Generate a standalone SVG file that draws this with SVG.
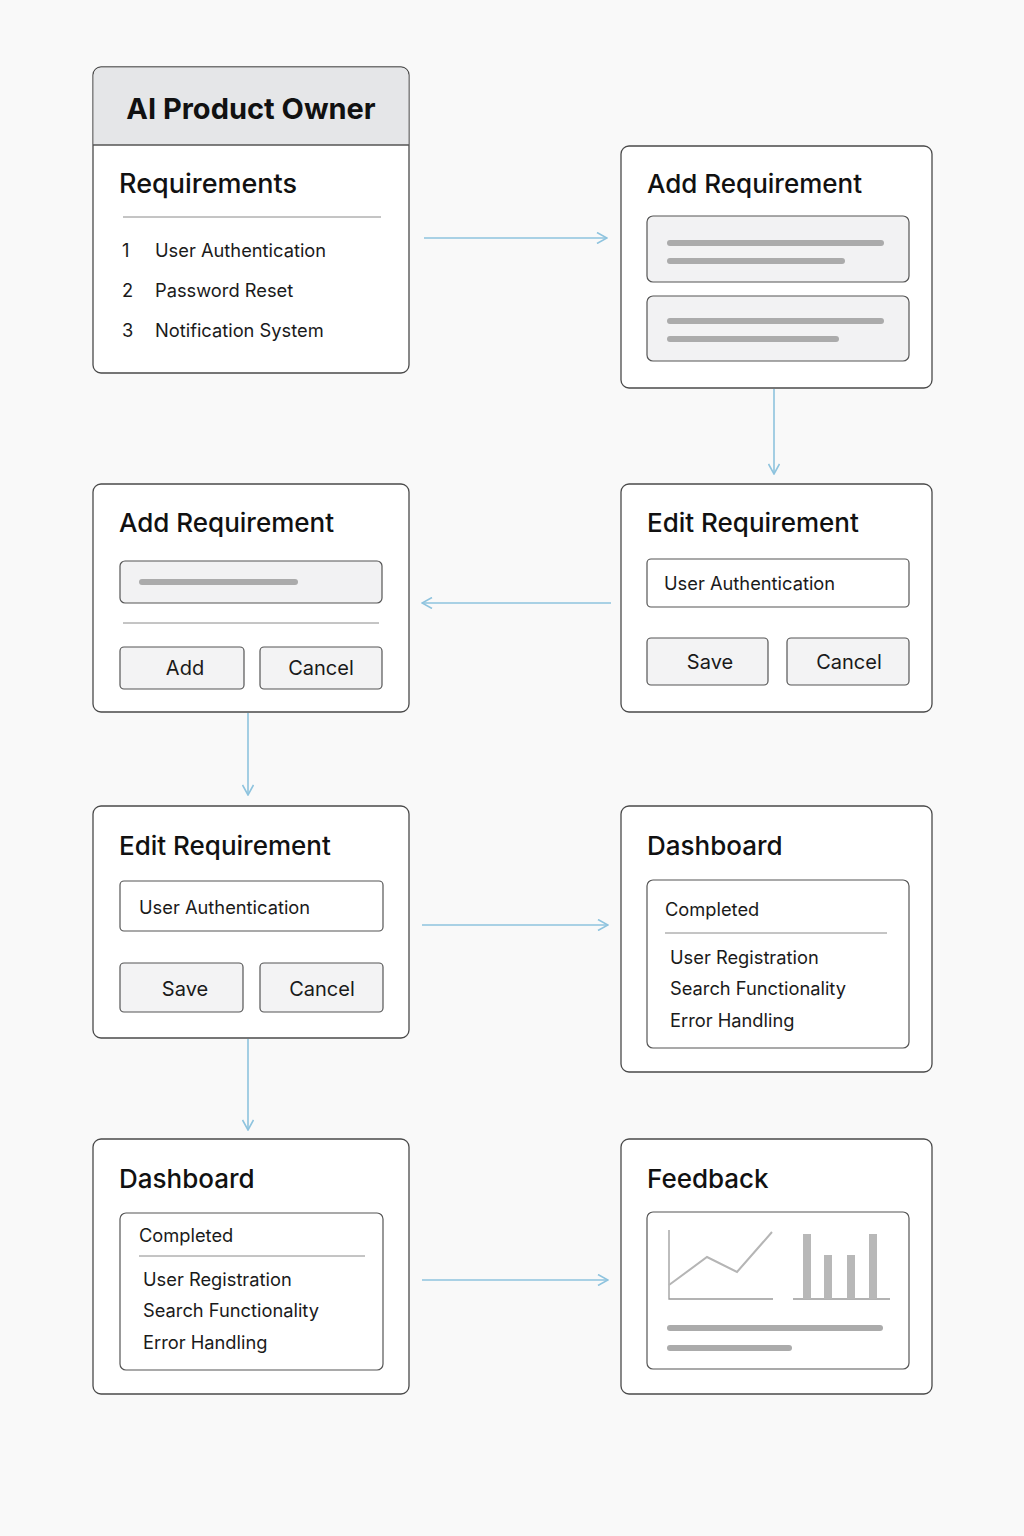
<svg xmlns="http://www.w3.org/2000/svg" width="1024" height="1536" viewBox="0 0 1024 1536">
<defs>
<style>
.box{fill:#fff;stroke:#4a4a4a;stroke-width:1.3}
.title{font-family:Inter,"Liberation Sans",sans-serif;font-size:26px;font-weight:500;fill:#111}
.txt{font-family:Inter,"Liberation Sans",sans-serif;font-size:18.3px;fill:#1a1a1a}
.btn{fill:#f3f3f4;stroke:#555;stroke-width:1.2}
.btxt{font-family:Inter,"Liberation Sans",sans-serif;font-size:20px;fill:#1a1a1a;text-anchor:middle}
.ph{fill:#f2f2f3;stroke:#555;stroke-width:1.2}
.inp{fill:#fff;stroke:#555;stroke-width:1.2}
.bar{stroke:#ababab;stroke-width:6;stroke-linecap:round;fill:none}
.div{stroke:#8a8a8a;stroke-width:1}
.conn{stroke:#8ec3de;stroke-width:1.6;fill:none}
.chart{stroke:#b5b5b5;stroke-width:2;fill:none}
</style>
<marker id="arr" viewBox="0 0 12 12" refX="11" refY="6" markerWidth="12" markerHeight="12" markerUnits="userSpaceOnUse" orient="auto">
<path d="M1,0.5 L11,6 L1,11.5" fill="none" stroke="#8ec3de" stroke-width="1.6"/>
</marker>
</defs>
<rect width="1024" height="1536" fill="#f9f9f9"/>

<g id="connectors">
<line class="conn" x1="424" y1="238" x2="607" y2="238" marker-end="url(#arr)"/>
<line class="conn" x1="774" y1="389" x2="774" y2="474" marker-end="url(#arr)"/>
<line class="conn" x1="611" y1="603" x2="422" y2="603" marker-end="url(#arr)"/>
<line class="conn" x1="248" y1="713" x2="248" y2="795" marker-end="url(#arr)"/>
<line class="conn" x1="422" y1="925" x2="608" y2="925" marker-end="url(#arr)"/>
<line class="conn" x1="248" y1="1039" x2="248" y2="1130" marker-end="url(#arr)"/>
<line class="conn" x1="422" y1="1280" x2="608" y2="1280" marker-end="url(#arr)"/>
</g>

<g id="node-product-owner">
<rect class="box" x="93" y="67" width="316" height="306" rx="8"/>
<path d="M101,67.6 H401 A7.4,7.4 0 0 1 408.4,75 V145 H93.6 V75 A7.4,7.4 0 0 1 101,67.6 Z" fill="#e5e6e8"/>
<line x1="93" y1="145" x2="409" y2="145" stroke="#555" stroke-width="1.3"/>
<text x="251" y="119" text-anchor="middle" font-family="Inter,'Liberation Sans',sans-serif" font-size="29" font-weight="700" fill="#111">AI Product Owner</text>
<text class="title" x="119" y="193" style="font-size:27px">Requirements</text>
<line class="div" x1="123" y1="217" x2="381" y2="217"/>
<text class="txt" x="122" y="257">1</text><text class="txt" x="155" y="257">User Authentication</text>
<text class="txt" x="122" y="297">2</text><text class="txt" x="155" y="297">Password Reset</text>
<text class="txt" x="122" y="337">3</text><text class="txt" x="155" y="337">Notification System</text>
</g>

<g id="node-add-requirement-1">
<rect class="box" x="621" y="146" width="311" height="242" rx="8"/>
<text class="title" x="647" y="193">Add Requirement</text>
<rect class="ph" x="647" y="216" width="262" height="66" rx="6"/>
<line class="bar" x1="670" y1="243" x2="881" y2="243"/>
<line class="bar" x1="670" y1="261" x2="842" y2="261"/>
<rect class="ph" x="647" y="296" width="262" height="65" rx="6"/>
<line class="bar" x1="670" y1="321" x2="881" y2="321"/>
<line class="bar" x1="670" y1="339" x2="836" y2="339"/>
</g>

<g id="node-add-requirement-2">
<rect class="box" x="93" y="484" width="316" height="228" rx="8"/>
<text class="title" x="119" y="532">Add Requirement</text>
<rect class="ph" x="120" y="561" width="262" height="42" rx="5"/>
<line class="bar" x1="142" y1="582" x2="295" y2="582"/>
<line class="div" x1="123" y1="623" x2="379" y2="623"/>
<rect class="btn" x="120" y="647" width="124" height="42" rx="4"/>
<text class="btxt" x="185" y="675">Add</text>
<rect class="btn" x="260" y="647" width="122" height="42" rx="4"/>
<text class="btxt" x="321" y="675">Cancel</text>
</g>

<g id="node-edit-requirement-1">
<rect class="box" x="621" y="484" width="311" height="228" rx="8"/>
<text class="title" x="647" y="532">Edit Requirement</text>
<rect class="inp" x="647" y="559" width="262" height="48" rx="4"/>
<text class="txt" x="664" y="590">User Authentication</text>
<rect class="btn" x="647" y="638" width="121" height="47" rx="4"/>
<text class="btxt" x="710" y="669">Save</text>
<rect class="btn" x="787" y="638" width="122" height="47" rx="4"/>
<text class="btxt" x="849" y="669">Cancel</text>
</g>

<g id="node-edit-requirement-2">
<rect class="box" x="93" y="806" width="316" height="232" rx="8"/>
<text class="title" x="119" y="855">Edit Requirement</text>
<rect class="inp" x="120" y="881" width="263" height="50" rx="4"/>
<text class="txt" x="139" y="914">User Authentication</text>
<rect class="btn" x="120" y="963" width="123" height="49" rx="4"/>
<text class="btxt" x="185" y="996">Save</text>
<rect class="btn" x="260" y="963" width="123" height="49" rx="4"/>
<text class="btxt" x="322" y="996">Cancel</text>
</g>

<g id="node-dashboard-1">
<rect class="box" x="621" y="806" width="311" height="266" rx="8"/>
<text class="title" x="647" y="855">Dashboard</text>
<rect class="inp" x="647" y="880" width="262" height="168" rx="6"/>
<text class="txt" x="665" y="916">Completed</text>
<line class="div" x1="665" y1="933" x2="887" y2="933"/>
<text class="txt" x="670" y="964">User Registration</text>
<text class="txt" x="670" y="995">Search Functionality</text>
<text class="txt" x="670" y="1027">Error Handling</text>
</g>

<g id="node-dashboard-2">
<rect class="box" x="93" y="1139" width="316" height="255" rx="8"/>
<text class="title" x="119" y="1188">Dashboard</text>
<rect class="inp" x="120" y="1213" width="263" height="157" rx="6"/>
<text class="txt" x="139" y="1242">Completed</text>
<line class="div" x1="139" y1="1256" x2="365" y2="1256"/>
<text class="txt" x="143" y="1286">User Registration</text>
<text class="txt" x="143" y="1317">Search Functionality</text>
<text class="txt" x="143" y="1349">Error Handling</text>
</g>

<g id="node-feedback">
<rect class="box" x="621" y="1139" width="311" height="255" rx="8"/>
<text class="title" x="647" y="1188">Feedback</text>
<rect class="inp" x="647" y="1212" width="262" height="157" rx="6"/>
<polyline points="669,1230 669,1299 773,1299" fill="none" stroke="#9a9a9a" stroke-width="1.3"/>
<polyline class="chart" points="669,1285 707,1257 737,1272 772,1232"/>
<line x1="793" y1="1299" x2="890" y2="1299" stroke="#9a9a9a" stroke-width="1.3"/>
<rect x="803" y="1234" width="8" height="65" fill="#b8b8b8"/>
<rect x="824" y="1255" width="8" height="44" fill="#b8b8b8"/>
<rect x="847" y="1255" width="8" height="44" fill="#b8b8b8"/>
<rect x="869" y="1234" width="8" height="65" fill="#b8b8b8"/>
<line class="bar" x1="670" y1="1328" x2="880" y2="1328"/>
<line class="bar" x1="670" y1="1348" x2="789" y2="1348"/>
</g>
</svg>
